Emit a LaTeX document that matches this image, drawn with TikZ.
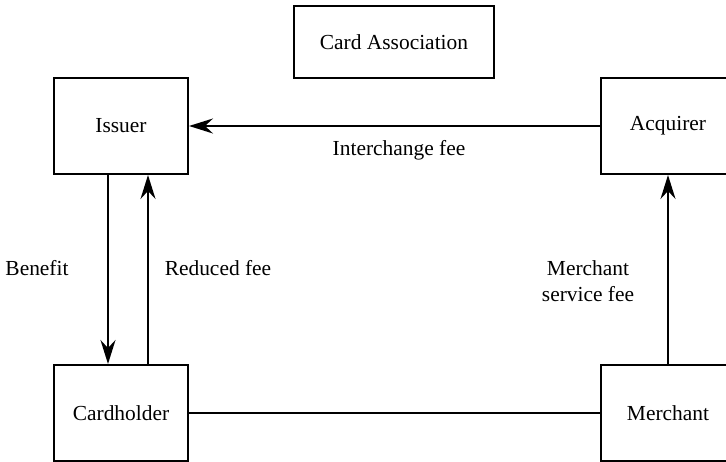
\documentclass[tikz,border=0pt]{standalone}
\usepackage{fontspec}
\setmainfont{Liberation Serif}
\usetikzlibrary{arrows.meta}
\begin{document}
\begin{tikzpicture}[x=1bp,y=-1bp,
  box/.style={draw,line width=2bp,minimum width=134bp,minimum height=96bp,inner sep=0pt,font=\fontsize{21.5}{26}\selectfont},
  conn/.style={draw,line width=2bp},
  arr/.style={draw,line width=2bp,-{Stealth[length=24bp,width=15bp,inset=8bp]}},
  lbl/.style={font=\fontsize{21.5}{26}\selectfont,align=center,inner sep=0pt}]
\useasboundingbox (0,0) rectangle (726,462);
\node[box,minimum width=200bp,minimum height=72bp] (ca) at (394,42) {Card Association};
\node[box] (iss) at (121,126) {Issuer};
\node[box] (acq) at (668,126) {Acquirer};
\node[box] (ch) at (121,413) {Cardholder};
\node[box] (mer) at (668,413) {Merchant};
\path[arr] (acq.west) -- (iss.east);
\path[arr] (iss.south -| 108,0) -- (ch.north -| 108,0);
\path[arr] (ch.north -| 148,0) -- (iss.south -| 148,0);
\path[arr] (mer.north) -- (acq.south);
\path[conn] (ch.east) -- (mer.west);
\node[lbl] (lif) at (399,150) {Interchange fee};
\node[lbl] (lb) at (37,268) {Benefit};
\node[lbl] (lrf) at (218,268) {Reduced fee};
\node[lbl] (lmsf) at (588,281) {Merchant\\service fee};
\end{tikzpicture}
\end{document}
